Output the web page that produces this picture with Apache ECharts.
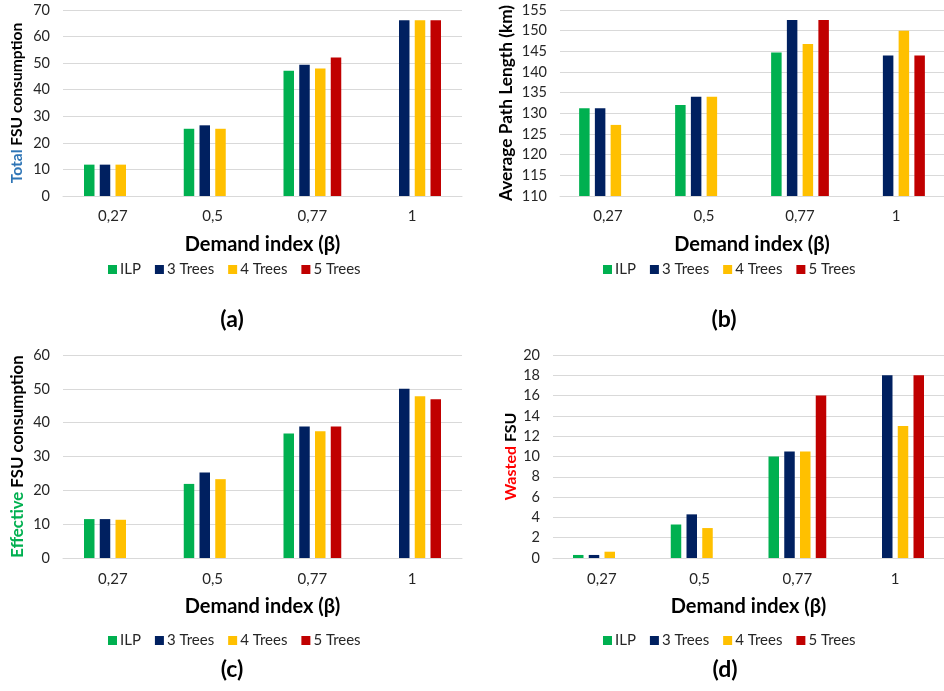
<!DOCTYPE html>
<html>
<head>
<meta charset="utf-8">
<script src="https://cdn.jsdelivr.net/npm/echarts@6/dist/echarts.min.js"></script>
<style>
html,body{margin:0;padding:0;background:#fff;}
#chart{width:944px;height:691px;}
</style>
</head>
<body>
<div id="chart"></div>
<script>
// ---- data ----
const categories = ['0,27', '0,5', '0,77', '1'];
const seriesNames = ['ILP', '3 Trees', '4 Trees', '5 Trees'];

// (a) Total FSU consumption
const totalILP = [11.8, 25.3, 47.1, null];
const total3   = [11.8, 26.6, 49.4, 66.1];
const total4   = [11.8, 25.3, 48.0, 66.1];
const total5   = [null, null, 52.1, 66.1];

// (b) Average Path Length (km)
const pathILP = [131.2, 132.0, 144.7, null];
const path3   = [131.2, 134.0, 152.6, 144.0];
const path4   = [127.2, 134.0, 146.8, 150.0];
const path5   = [null, null, 152.6, 144.0];

// (c) Effective FSU consumption
const effILP = [11.5, 21.9, 36.8, null];
const eff3   = [11.5, 25.3, 38.9, 50.0];
const eff4   = [11.3, 23.3, 37.5, 47.8];
const eff5   = [null, null, 38.9, 46.9];

// (d) Wasted FSU
const wasteILP = [0.3, 3.3, 10.0, null];
const waste3   = [0.3, 4.3, 10.5, 18.0];
const waste4   = [0.62, 2.95, 10.5, 13.0];
const waste5   = [null, null, 16.0, 18.0];

// y-axis ranges
const yRangeA = {min: 0, max: 70, interval: 10};
const yRangeB = {min: 110, max: 155, interval: 5};
const yRangeC = {min: 0, max: 60, interval: 10};
const yRangeD = {min: 0, max: 20, interval: 2};

const xAxisTitle = 'Demand index (β)';
const panelLabels = ['(a)', '(b)', '(c)', '(d)'];

// ---- styling ----
const FONT = 'Lato, "Open Sans", sans-serif';
const colors = ['#00B050', '#002060', '#FFC000', '#C00000'];
const gridColor = '#D9D9D9';

const grids = [
  {left: 63, right: 482, top: 10, height: 186},
  {left: 560, right: -1, top: 10, height: 186},
  {left: 63, right: 482, top: 355, height: 203},
  {left: 553, right: -9, top: 355, height: 203}
];

const yNames = [
  '{c|Total} FSU consumption',
  'Average Path Length (km)',
  '{c|Effective} FSU consumption',
  '{c|Wasted} FSU'
];
const yNameColors = ['#2E75B6', '#000', '#00B050', '#FF0000'];
const yNameSizes = [15.6, 17.3, 16.8, 16];
const yNameGaps = [38, 45, 37, 34];
const yRanges = [yRangeA, yRangeB, yRangeC, yRangeD];

const panelData = [
  [totalILP, total3, total4, total5],
  [pathILP, path3, path4, path5],
  [effILP, eff3, eff4, eff5],
  [wasteILP, waste3, waste4, waste5]
];

const xAxes = grids.map((g, i) => ({
  type: 'category',
  gridIndex: i,
  data: categories,
  axisLine: {lineStyle: {color: gridColor, width: 1}},
  axisTick: {show: false},
  axisLabel: {fontFamily: FONT, fontSize: 15, color: '#262626', margin: i < 2 ? 13 : 14},
  name: xAxisTitle,
  nameLocation: 'middle',
  nameGap: 39,
  nameTextStyle: {fontFamily: FONT, fontSize: 20, fontWeight: 'bold', color: '#000'}
}));

const yAxes = grids.map((g, i) => ({
  type: 'value',
  gridIndex: i,
  min: yRanges[i].min,
  max: yRanges[i].max,
  interval: yRanges[i].interval,
  axisLine: {show: false},
  axisTick: {show: false},
  splitLine: {lineStyle: {color: gridColor, width: 1}},
  axisLabel: {fontFamily: FONT, fontSize: 14.5, color: '#262626', margin: 13},
  name: yNames[i],
  nameLocation: 'middle',
  nameGap: yNameGaps[i],
  nameRotate: 90,
  nameTextStyle: {
    fontFamily: FONT, fontSize: yNameSizes[i], fontWeight: 'bold', color: '#000',
    rich: {c: {fontFamily: FONT, fontSize: yNameSizes[i], fontWeight: 'bold', color: yNameColors[i]}}
  }
}));

const series = [];
panelData.forEach((arrs, p) => {
  arrs.forEach((arr, s) => {
    series.push({
      type: 'bar',
      name: seriesNames[s],
      xAxisIndex: p,
      yAxisIndex: p,
      data: arr,
      barWidth: 10.5,
      barGap: '50%',
      itemStyle: {color: colors[s]}
    });
  });
});

const legendPos = [
  {left: 108, top: 262},
  {left: 603, top: 262},
  {left: 108, top: 633},
  {left: 603, top: 633}
];
const legends = legendPos.map(pos => ({
  left: pos.left,
  top: pos.top,
  padding: 0,
  itemWidth: 9,
  itemHeight: 9,
  itemGap: 14,
  icon: 'rect',
  data: seriesNames,
  textStyle: {fontFamily: FONT, fontSize: 15, color: '#262626', padding: [0, 0, 0, -2]}
}));

const labelPos = [[232, 322], [724, 322], [232, 672], [725, 672]];
const titles = panelLabels.map((t, i) => ({
  text: t,
  left: labelPos[i][0],
  top: labelPos[i][1] - 14,
  textAlign: 'center',
  padding: 0,
  textStyle: {fontFamily: FONT, fontSize: 23, fontWeight: 'bold', color: '#000'}
}));

const chart = echarts.init(document.getElementById('chart'), null, {renderer: 'canvas'});
chart.setOption({
  animation: false,
  backgroundColor: '#fff',
  title: titles,
  legend: legends,
  grid: grids,
  xAxis: xAxes,
  yAxis: yAxes,
  series: series
});
</script>
</body>
</html>
